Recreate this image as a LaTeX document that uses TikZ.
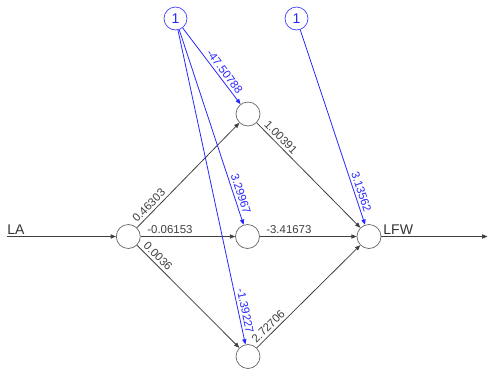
\documentclass[tikz,border=0pt]{standalone}
\usepackage{fontspec}
\setmainfont{Liberation Sans}
\usetikzlibrary{arrows.meta}

\begin{document}
\begin{tikzpicture}[x=0.02cm, y=-0.02cm,
    unit/.style={draw=black!60, circle, fill=white, minimum size=0.48cm, inner sep=0pt},
    biasunit/.style={draw=blue!75, circle, minimum size=0.46cm, inner sep=0pt, text=blue!85, font=\fontsize{8}{9}\selectfont},
    wlab/.style={font=\fontsize{6.5}{7}\selectfont, sloped, above=1pt, inner sep=0.5pt, pos=#1},
    wire/.style={-{Triangle[length=3pt,width=2.4pt]}, black!75, line width=0.45pt},
    bwire/.style={-{Triangle[length=3pt,width=2.4pt]}, blue!85, line width=0.45pt}]
    \useasboundingbox (0,0) rectangle (488,369);

    % Bias units
    \node[biasunit] (b1) at (175.5,18.5) {1};
    \node[biasunit] (b2) at (296.5,18.5) {1};

    % Input layer
    \coordinate (start) at (7,236.5);
    \node[unit] (in) at (128.3,236.5) {};
    \node[anchor=south west, inner sep=0pt, font=\fontsize{8}{9}\selectfont, black!80] (la) at (7,235) {LA};

    % Hidden layer
    \node[unit] (h1) at (248,114) {};
    \node[unit] (h2) at (247.5,236.5) {};
    \node[unit] (h3) at (248,356.5) {};

    % Output layer
    \node[unit] (out) at (369,236.5) {};
    \coordinate (stop) at (487.5,236.5);
    \node[anchor=south west, inner sep=0pt, font=\fontsize{8}{9}\selectfont, black!80] (lfw) at (383,235) {LFW};

    % Input arrows
    \draw[wire] (start) -- (in);
    \draw[wire] (in) -- node[wlab=0.165] {0.46303} (h1);
    \draw[wire] (in) -- node[wlab=0.31] {-0.06153} (h2);
    \draw[wire] (in) -- node[wlab=0.157] {0.0036} (h3);

    % Hidden to output
    \draw[wire] (h1) -- node[wlab=0.186] {1.00391} (out);
    \draw[wire] (h2) -- node[wlab=0.30] {-3.41673} (out);
    \draw[wire] (h3) -- node[wlab=0.16] {2.72706} (out);
    \draw[wire] (out) -- (stop);

    % Bias weights
    \draw[bwire] (b1) -- node[wlab=0.63] {-47.50788} (h1);
    \draw[bwire] (b1) -- node[wlab=0.853] {3.29967} (h2);
    \draw[bwire] (b1) -- node[wlab=0.898] {-1.39227} (h3);
    \draw[bwire] (b2) -- node[wlab=0.84] {3.13562} (out);
\end{tikzpicture}
\end{document}
